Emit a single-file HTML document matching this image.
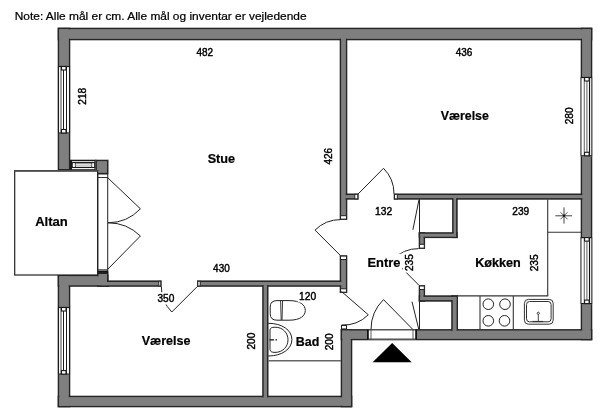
<!DOCTYPE html>
<html><head><meta charset="utf-8"><style>
html,body{margin:0;padding:0;background:#fff;width:600px;height:414px;overflow:hidden}
svg{display:block}
text{font-family:"Liberation Sans",sans-serif;fill:#000;stroke:#000;stroke-width:0.45px}
text[font-weight=bold]{stroke-width:0.2px}
text.note{stroke-width:0.22px}
svg{will-change:transform}
</style></head><body>
<svg width="600" height="414" viewBox="0 0 600 414">
<rect x="58.50" y="28.50" width="533.00" height="11.00" fill="#7f7f7f" stroke="#262626" stroke-width="1.6"/>
<rect x="581.50" y="28.50" width="10.00" height="311.00" fill="#7f7f7f" stroke="#262626" stroke-width="1.6"/>
<rect x="58.50" y="28.50" width="11.00" height="141.30" fill="#7f7f7f" stroke="#262626" stroke-width="1.6"/>
<rect x="58.50" y="275.50" width="11.00" height="131.00" fill="#7f7f7f" stroke="#262626" stroke-width="1.6"/>
<rect x="58.50" y="396.50" width="293.00" height="10.00" fill="#7f7f7f" stroke="#262626" stroke-width="1.6"/>
<rect x="341.50" y="329.90" width="10.00" height="76.60" fill="#7f7f7f" stroke="#262626" stroke-width="1.6"/>
<rect x="341.50" y="329.90" width="250.00" height="9.60" fill="#7f7f7f" stroke="#262626" stroke-width="1.6"/>
<rect x="70.50" y="160.50" width="25.00" height="9.30" fill="#7f7f7f" stroke="#262626" stroke-width="1.6"/>
<rect x="96.10" y="160.50" width="11.60" height="13.00" fill="#7f7f7f" stroke="#262626" stroke-width="1.6"/>
<rect x="58.50" y="275.50" width="49.20" height="10.50" fill="#7f7f7f" stroke="#262626" stroke-width="1.6"/>
<rect x="97.80" y="273.20" width="9.90" height="12.80" fill="#7f7f7f" stroke="#262626" stroke-width="1.6"/>
<rect x="340.50" y="35.50" width="6.00" height="183.60" fill="#7f7f7f" stroke="#262626" stroke-width="1.6"/>
<rect x="340.50" y="256.10" width="6.00" height="36.10" fill="#7f7f7f" stroke="#262626" stroke-width="1.6"/>
<rect x="344.50" y="194.30" width="13.30" height="4.60" fill="#7f7f7f" stroke="#262626" stroke-width="1.6"/>
<rect x="394.50" y="194.30" width="190.00" height="4.60" fill="#7f7f7f" stroke="#262626" stroke-width="1.6"/>
<rect x="100.50" y="281.20" width="60.30" height="4.80" fill="#7f7f7f" stroke="#262626" stroke-width="1.6"/>
<rect x="197.80" y="281.20" width="145.70" height="4.80" fill="#7f7f7f" stroke="#262626" stroke-width="1.6"/>
<rect x="263.00" y="283.50" width="4.70" height="116.00" fill="#7f7f7f" stroke="#262626" stroke-width="1.6"/>
<rect x="419.50" y="233.00" width="4.80" height="15.10" fill="#7f7f7f" stroke="#262626" stroke-width="1.6"/>
<rect x="419.50" y="286.00" width="4.80" height="14.90" fill="#7f7f7f" stroke="#262626" stroke-width="1.6"/>
<rect x="452.90" y="196.50" width="4.00" height="40.80" fill="#7f7f7f" stroke="#262626" stroke-width="1.6"/>
<rect x="419.50" y="233.00" width="37.40" height="4.30" fill="#7f7f7f" stroke="#262626" stroke-width="1.6"/>
<rect x="419.50" y="296.10" width="37.70" height="4.80" fill="#7f7f7f" stroke="#262626" stroke-width="1.6"/>
<rect x="452.00" y="296.10" width="5.20" height="36.40" fill="#7f7f7f" stroke="#262626" stroke-width="1.6"/>
<rect x="59.35" y="29.35" width="531.30" height="9.30" fill="#7f7f7f"/>
<rect x="582.35" y="29.35" width="8.30" height="309.30" fill="#7f7f7f"/>
<rect x="59.35" y="29.35" width="9.30" height="139.60" fill="#7f7f7f"/>
<rect x="59.35" y="276.35" width="9.30" height="129.30" fill="#7f7f7f"/>
<rect x="59.35" y="397.35" width="291.30" height="8.30" fill="#7f7f7f"/>
<rect x="342.35" y="330.75" width="8.30" height="74.90" fill="#7f7f7f"/>
<rect x="342.35" y="330.75" width="248.30" height="7.90" fill="#7f7f7f"/>
<rect x="71.35" y="161.35" width="23.30" height="7.60" fill="#7f7f7f"/>
<rect x="96.95" y="161.35" width="9.90" height="11.30" fill="#7f7f7f"/>
<rect x="59.35" y="276.35" width="47.50" height="8.80" fill="#7f7f7f"/>
<rect x="98.65" y="274.05" width="8.20" height="11.10" fill="#7f7f7f"/>
<rect x="341.35" y="36.35" width="4.30" height="181.90" fill="#7f7f7f"/>
<rect x="341.35" y="256.95" width="4.30" height="34.40" fill="#7f7f7f"/>
<rect x="345.35" y="195.15" width="11.60" height="2.90" fill="#7f7f7f"/>
<rect x="395.35" y="195.15" width="188.30" height="2.90" fill="#7f7f7f"/>
<rect x="101.35" y="282.05" width="58.60" height="3.10" fill="#7f7f7f"/>
<rect x="198.65" y="282.05" width="144.00" height="3.10" fill="#7f7f7f"/>
<rect x="263.85" y="284.35" width="3.00" height="114.30" fill="#7f7f7f"/>
<rect x="420.35" y="233.85" width="3.10" height="13.40" fill="#7f7f7f"/>
<rect x="420.35" y="286.85" width="3.10" height="13.20" fill="#7f7f7f"/>
<rect x="453.75" y="197.35" width="2.30" height="39.10" fill="#7f7f7f"/>
<rect x="420.35" y="233.85" width="35.70" height="2.60" fill="#7f7f7f"/>
<rect x="420.35" y="296.95" width="36.00" height="3.10" fill="#7f7f7f"/>
<rect x="452.85" y="296.95" width="3.50" height="34.70" fill="#7f7f7f"/>
<rect x="58" y="66.0" width="12" height="67.5" fill="#fff"/>
<line x1="58.5" y1="66.0" x2="58.5" y2="133.5" stroke="#1a1a1a" stroke-width="1.1"/>
<line x1="61.0" y1="66.0" x2="61.0" y2="133.5" stroke="#777" stroke-width="1.4"/>
<line x1="63.5" y1="66.0" x2="63.5" y2="133.5" stroke="#1a1a1a" stroke-width="1.0"/>
<line x1="66.5" y1="66.0" x2="66.5" y2="133.5" stroke="#1a1a1a" stroke-width="1.0"/>
<line x1="69.5" y1="66.0" x2="69.5" y2="133.5" stroke="#1a1a1a" stroke-width="1.1"/>
<line x1="58" y1="66.5" x2="70" y2="66.5" stroke="#1a1a1a" stroke-width="1.2"/>
<line x1="58" y1="133.0" x2="70" y2="133.0" stroke="#1a1a1a" stroke-width="1.2"/>
<rect x="61.5" y="66.5" width="4.5" height="3.5" fill="#fff" stroke="#1a1a1a" stroke-width="1.1"/>
<rect x="61.5" y="129.5" width="4.5" height="3.5" fill="#fff" stroke="#1a1a1a" stroke-width="1.1"/>
<rect x="58" y="307" width="12" height="67.60000000000002" fill="#fff"/>
<line x1="58.5" y1="307" x2="58.5" y2="374.6" stroke="#1a1a1a" stroke-width="1.1"/>
<line x1="61.0" y1="307" x2="61.0" y2="374.6" stroke="#777" stroke-width="1.4"/>
<line x1="63.5" y1="307" x2="63.5" y2="374.6" stroke="#1a1a1a" stroke-width="1.0"/>
<line x1="66.5" y1="307" x2="66.5" y2="374.6" stroke="#1a1a1a" stroke-width="1.0"/>
<line x1="69.5" y1="307" x2="69.5" y2="374.6" stroke="#1a1a1a" stroke-width="1.1"/>
<line x1="58" y1="307.5" x2="70" y2="307.5" stroke="#1a1a1a" stroke-width="1.2"/>
<line x1="58" y1="374.1" x2="70" y2="374.1" stroke="#1a1a1a" stroke-width="1.2"/>
<rect x="61.5" y="307.5" width="4.5" height="3.5" fill="#fff" stroke="#1a1a1a" stroke-width="1.1"/>
<rect x="61.5" y="370.6" width="4.5" height="3.5" fill="#fff" stroke="#1a1a1a" stroke-width="1.1"/>
<rect x="581" y="77.0" width="11" height="79.30000000000001" fill="#fff"/>
<line x1="581.0" y1="77.0" x2="581.0" y2="156.3" stroke="#666" stroke-width="1.4"/>
<line x1="584.3" y1="77.0" x2="584.3" y2="156.3" stroke="#777" stroke-width="1.2"/>
<line x1="586.9" y1="77.0" x2="586.9" y2="156.3" stroke="#777" stroke-width="1.2"/>
<line x1="589.5" y1="77.0" x2="589.5" y2="156.3" stroke="#111" stroke-width="1.1"/>
<line x1="591.6" y1="77.0" x2="591.6" y2="156.3" stroke="#666" stroke-width="1.4"/>
<line x1="581" y1="77.5" x2="592" y2="77.5" stroke="#1a1a1a" stroke-width="1.2"/>
<line x1="581" y1="155.8" x2="592" y2="155.8" stroke="#1a1a1a" stroke-width="1.2"/>
<rect x="584.6" y="77.5" width="4.5" height="3.5" fill="#fff" stroke="#1a1a1a" stroke-width="1.1"/>
<rect x="584.6" y="152.3" width="4.5" height="3.5" fill="#fff" stroke="#1a1a1a" stroke-width="1.1"/>
<rect x="581" y="237.1" width="11" height="67.00000000000003" fill="#fff"/>
<line x1="581.0" y1="237.1" x2="581.0" y2="304.1" stroke="#666" stroke-width="1.4"/>
<line x1="584.3" y1="237.1" x2="584.3" y2="304.1" stroke="#777" stroke-width="1.2"/>
<line x1="586.9" y1="237.1" x2="586.9" y2="304.1" stroke="#777" stroke-width="1.2"/>
<line x1="589.5" y1="237.1" x2="589.5" y2="304.1" stroke="#111" stroke-width="1.1"/>
<line x1="591.6" y1="237.1" x2="591.6" y2="304.1" stroke="#666" stroke-width="1.4"/>
<line x1="581" y1="237.6" x2="592" y2="237.6" stroke="#1a1a1a" stroke-width="1.2"/>
<line x1="581" y1="303.6" x2="592" y2="303.6" stroke="#1a1a1a" stroke-width="1.2"/>
<rect x="584.6" y="237.6" width="4.5" height="3.5" fill="#fff" stroke="#1a1a1a" stroke-width="1.1"/>
<rect x="584.6" y="300.1" width="4.5" height="3.5" fill="#fff" stroke="#1a1a1a" stroke-width="1.1"/>
<rect x="70" y="160" width="25.599999999999994" height="10.300000000000011" fill="#fff"/>
<line x1="70" y1="160.6" x2="95.6" y2="160.6" stroke="#1a1a1a" stroke-width="1.2"/>
<line x1="70" y1="169.8" x2="95.6" y2="169.8" stroke="#1a1a1a" stroke-width="1.2"/>
<line x1="71.0" y1="160" x2="71.0" y2="170.3" stroke="#1a1a1a" stroke-width="2"/>
<line x1="95.0" y1="160" x2="95.0" y2="170.3" stroke="#1a1a1a" stroke-width="1.1"/>
<rect x="72.2" y="162.6" width="22.6" height="4.9" fill="none" stroke="#1a1a1a" stroke-width="1.1"/>
<rect x="75.3" y="163.0" width="16.5" height="4.2" fill="none" stroke="#1a1a1a" stroke-width="0.7"/>
<line x1="75.3" y1="165.1" x2="91.8" y2="165.1" stroke="#555" stroke-width="0.5"/>
<rect x="97.8" y="174" width="9.9" height="98.7" fill="#fff" stroke="#222" stroke-width="1"/>
<line x1="97.3" y1="177.5" x2="108.2" y2="177.5" stroke="#333" stroke-width="1"/>
<line x1="97.3" y1="269.8" x2="108.2" y2="269.8" stroke="#333" stroke-width="1"/>
<rect x="97.3" y="270.6" width="10.9" height="2.1" fill="#111"/>
<rect x="14.7" y="170.7" width="82.9" height="104.3" fill="#fff" stroke="#222" stroke-width="1.2"/><line x1="14.2" y1="170.9" x2="97.6" y2="170.9" stroke="#4a4a4a" stroke-width="1.8"/>
<rect x="340.5" y="215.7" width="6" height="3.4000000000000057" fill="#fff" stroke="#222" stroke-width="1"/>
<rect x="340.5" y="256.1" width="6" height="3.4000000000000057" fill="#fff" stroke="#222" stroke-width="1"/>
<rect x="340.5" y="288.8" width="6" height="3.3999999999999773" fill="#fff" stroke="#222" stroke-width="1"/>
<rect x="341.5" y="325.5" width="5" height="3.3999999999999773" fill="#fff" stroke="#222" stroke-width="1"/>
<rect x="354.8" y="194.3" width="3.0" height="4.599999999999994" fill="#fff" stroke="#222" stroke-width="1"/>
<rect x="394.5" y="194.3" width="2.8000000000000114" height="4.599999999999994" fill="#fff" stroke="#222" stroke-width="1"/>
<rect x="158.8" y="281.2" width="2.0" height="4.800000000000011" fill="#fff" stroke="#222" stroke-width="1"/>
<rect x="197.8" y="281.2" width="2.3999999999999773" height="4.800000000000011" fill="#fff" stroke="#222" stroke-width="1"/>
<rect x="419.5" y="244.3" width="4.800000000000011" height="3.799999999999983" fill="#fff" stroke="#222" stroke-width="1"/>
<rect x="419.5" y="286.0" width="4.800000000000011" height="3.5" fill="#fff" stroke="#222" stroke-width="1"/>
<rect x="368" y="329.4" width="48" height="10.2" fill="#fff"/>
<line x1="368" y1="329.9" x2="416" y2="329.9" stroke="#222" stroke-width="1"/>
<line x1="368" y1="339.1" x2="416" y2="339.1" stroke="#222" stroke-width="1"/>
<rect x="367" y="329.4" width="1.8" height="10.2" fill="#111"/>
<line x1="371" y1="329.4" x2="371" y2="339.6" stroke="#333" stroke-width="0.8"/>
<rect x="415.2" y="329.4" width="1.8" height="10.2" fill="#111"/>
<line x1="413" y1="329.4" x2="413" y2="339.6" stroke="#333" stroke-width="0.8"/>
<line x1="419.5" y1="199.4" x2="419.5" y2="232.5" stroke="#222" stroke-width="1"/>
<line x1="419.5" y1="301.4" x2="419.5" y2="329.4" stroke="#222" stroke-width="1"/>
<line x1="419" y1="199.6" x2="412.9" y2="229.8" stroke="#222" stroke-width="1"/>
<line x1="418.7" y1="329" x2="412" y2="301.7" stroke="#222" stroke-width="1"/>
<line x1="358.3" y1="193.8" x2="383.5" y2="168.3" stroke="#222" stroke-width="1"/><path d="M383.5,168.3 A35.85,35.85 0 0 1 394,193.8" fill="none" stroke="#222" stroke-width="1"/>
<line x1="340.5" y1="255.6" x2="315" y2="230.1" stroke="#222" stroke-width="1"/><path d="M315,230.1 A36.06,36.06 0 0 1 340.5,219.6" fill="none" stroke="#222" stroke-width="1"/>
<line x1="197.3" y1="286.5" x2="171.8" y2="312" stroke="#222" stroke-width="1"/><path d="M171.8,312 A36.06,36.06 0 0 1 161.3,286.5" fill="none" stroke="#222" stroke-width="1"/>
<line x1="108" y1="178" x2="140.4" y2="208.8" stroke="#222" stroke-width="1"/><path d="M140.4,208.8 A44.70,44.70 0 0 1 108,222.8" fill="none" stroke="#222" stroke-width="1"/>
<line x1="108" y1="269" x2="140.4" y2="236" stroke="#222" stroke-width="1"/><path d="M140.4,236 A46.25,46.25 0 0 0 108,222.8" fill="none" stroke="#222" stroke-width="1"/>
<line x1="341.5" y1="291.5" x2="368.3" y2="314.8" stroke="#222" stroke-width="1"/><path d="M368.3,314.8 A35.51,35.51 0 0 1 341.5,325" fill="none" stroke="#222" stroke-width="1"/>
<line x1="412.8" y1="329.4" x2="383.5" y2="299.6" stroke="#222" stroke-width="1"/><path d="M383.5,299.6 A41.79,41.79 0 0 0 371,329.4" fill="none" stroke="#222" stroke-width="1"/>
<line x1="418.7" y1="285" x2="393" y2="259.3" stroke="#222" stroke-width="1"/><path d="M393,259.3 A36.35,36.35 0 0 1 418.7,248.6" fill="none" stroke="#222" stroke-width="1"/>
<line x1="547.7" y1="199.4" x2="547.7" y2="296" stroke="#333" stroke-width="1.1"/>
<line x1="457.7" y1="295.9" x2="548.2" y2="295.9" stroke="#333" stroke-width="1.1"/>
<line x1="547.7" y1="232.3" x2="581" y2="232.3" stroke="#333" stroke-width="1.1"/>
<line x1="480" y1="295.9" x2="480" y2="329.4" stroke="#333" stroke-width="1.1"/>
<line x1="513.3" y1="295.9" x2="513.3" y2="329.4" stroke="#333" stroke-width="1.1"/>
<circle cx="488.3" cy="304.2" r="5.3" fill="none" stroke="#222" stroke-width="1"/>
<circle cx="505" cy="304.2" r="5.3" fill="none" stroke="#222" stroke-width="1"/>
<circle cx="488.3" cy="320.8" r="5.3" fill="none" stroke="#222" stroke-width="1"/>
<circle cx="504.5" cy="320.8" r="5.3" fill="none" stroke="#222" stroke-width="1"/>
<rect x="524.4" y="299.4" width="28.8" height="24.8" rx="4" fill="#fff" stroke="#333" stroke-width="1"/>
<rect x="526.5" y="301.5" width="24.6" height="20.3" rx="3" fill="none" stroke="#333" stroke-width="1"/>
<circle cx="538.3" cy="313.3" r="1.1" fill="none" stroke="#333" stroke-width="0.9"/>
<line x1="538.3" y1="314.4" x2="538.3" y2="321.7" stroke="#333" stroke-width="0.9"/>
<line x1="532.5" y1="321.5" x2="543.3" y2="321.5" stroke="#333" stroke-width="1.2"/>
<line x1="555.4" y1="215.8" x2="572" y2="215.8" stroke="#444" stroke-width="1"/>
<line x1="564" y1="207.4" x2="564" y2="223.6" stroke="#444" stroke-width="1"/>
<line x1="560.5" y1="212.3" x2="567.5" y2="219.3" stroke="#444" stroke-width="0.9"/>
<line x1="567.5" y1="212.3" x2="560.5" y2="219.3" stroke="#444" stroke-width="0.9"/>
<circle cx="564" cy="215.8" r="1.2" fill="#111"/>
<path d="M270.2,307 Q270.2,300.6 277,300.6 L289,300.6 C300.5,300.6 305.3,305 305.3,310.4 C305.3,315.8 300.5,320.2 289,320.2 L277,320.2 Q270.2,320.2 270.2,313.8 Z" fill="none" stroke="#222" stroke-width="1"/>
<line x1="280.6" y1="300.8" x2="281.2" y2="320" stroke="#222" stroke-width="0.9"/>
<line x1="282.6" y1="300.8" x2="282.0" y2="320" stroke="#222" stroke-width="0.9"/>
<path d="M268.2,323.3 C282,323.3 291.9,330 291.9,339.5 C291.9,349 282,356 268.2,356" fill="none" stroke="#222" stroke-width="1"/>
<path d="M270,330 Q270,327.2 275,327.2 C283,327.2 288,333 288,339.8 C288,346.6 283,352.4 275,352.4 Q270,352.4 270,349.6 Z" fill="none" stroke="#222" stroke-width="1"/>
<line x1="269.5" y1="339.8" x2="278.5" y2="339.8" stroke="#111" stroke-width="1.3" stroke-dasharray="4.5,1.5,1.5,1.5"/>
<line x1="268.2" y1="360.7" x2="341" y2="360.7" stroke="#666" stroke-width="1.6"/>
<polygon points="392.2,343 372.6,362.2 411.7,362.2" fill="#000"/>
<text x="0" y="0" font-size="11.0" class="note" transform="translate(14.76,20.39) scale(1.0833,1.0435)">Note: Alle mål er cm. Alle mål og inventar er vejledende</text>
<rect x="194.70" y="46.00" width="20.10" height="12.30" fill="#fff"/>
<text x="0" y="0" font-size="11.0" transform="translate(196.47,55.80) scale(0.9070,0.9419)">482</text>
<rect x="76.20" y="86.15" width="12.30" height="20.10" fill="#fff"/>
<text x="0" y="0" font-size="11.0" transform="translate(86.00,104.71) rotate(-90) scale(0.9200,0.9419)">218</text>
<rect x="205.90" y="150.40" width="30.90" height="14.60" fill="#fff"/>
<text x="0" y="0" font-size="12.5" font-weight="bold" transform="translate(207.65,162.50) scale(1.0151,1.0667)">Stue</text>
<rect x="322.45" y="146.25" width="12.30" height="20.10" fill="#fff"/>
<text x="0" y="0" font-size="11.0" transform="translate(332.25,164.58) rotate(-90) scale(0.9070,0.9419)">426</text>
<rect x="33.40" y="214.20" width="35.70" height="14.30" fill="#fff"/>
<text x="0" y="0" font-size="12.5" font-weight="bold" transform="translate(35.14,226.00) scale(1.0479,1.0333)">Altan</text>
<rect x="211.32" y="262.10" width="20.10" height="12.30" fill="#fff"/>
<text x="0" y="0" font-size="11.0" transform="translate(213.10,271.90) scale(0.9070,0.9419)">430</text>
<rect x="155.95" y="292.20" width="20.10" height="12.30" fill="#fff"/>
<text x="0" y="0" font-size="11.0" transform="translate(157.49,302.00) scale(0.9200,0.9419)">350</text>
<rect x="139.70" y="333.60" width="52.40" height="14.30" fill="#fff"/>
<text x="0" y="0" font-size="12.5" font-weight="bold" transform="translate(141.70,345.40) scale(1.0031,1.0333)">Værelse</text>
<rect x="245.05" y="331.00" width="12.30" height="20.10" fill="#fff"/>
<text x="0" y="0" font-size="11.0" transform="translate(254.85,349.56) rotate(-90) scale(0.9200,0.9419)">200</text>
<rect x="297.82" y="290.10" width="20.10" height="12.30" fill="#fff"/>
<text x="0" y="0" font-size="11.0" transform="translate(299.12,299.90) scale(0.9333,0.9419)">120</text>
<rect x="294.50" y="334.20" width="26.00" height="13.90" fill="#fff"/>
<text x="0" y="0" font-size="12.5" font-weight="bold" transform="translate(295.75,345.60) scale(1.0000,0.9889)">Bad</text>
<rect x="322.95" y="331.75" width="12.30" height="20.10" fill="#fff"/>
<text x="0" y="0" font-size="11.0" transform="translate(332.75,350.31) rotate(-90) scale(0.9200,0.9419)">200</text>
<rect x="373.80" y="205.35" width="20.10" height="12.30" fill="#fff"/>
<text x="0" y="0" font-size="11.0" transform="translate(375.10,215.15) scale(0.9333,0.9419)">132</text>
<rect x="366.30" y="253.70" width="35.70" height="15.90" fill="#fff"/>
<text x="0" y="0" font-size="12.5" font-weight="bold" transform="translate(367.53,267.10) scale(1.0309,1.0514)">Entre</text>
<rect x="402.85" y="252.45" width="12.30" height="20.10" fill="#fff"/>
<text x="0" y="0" font-size="11.0" transform="translate(412.65,271.01) rotate(-90) scale(0.9200,0.9419)">235</text>
<rect x="454.00" y="46.05" width="20.10" height="12.30" fill="#fff"/>
<text x="0" y="0" font-size="11.0" transform="translate(455.77,55.85) scale(0.9070,0.9419)">436</text>
<rect x="438.70" y="109.20" width="51.80" height="13.70" fill="#fff"/>
<text x="0" y="0" font-size="12.5" font-weight="bold" transform="translate(440.70,120.40) scale(0.9907,0.9667)">Værelse</text>
<rect x="563.35" y="105.75" width="12.30" height="20.10" fill="#fff"/>
<text x="0" y="0" font-size="11.0" transform="translate(573.15,124.31) rotate(-90) scale(0.9200,0.9419)">280</text>
<rect x="510.80" y="205.35" width="20.10" height="12.30" fill="#fff"/>
<text x="0" y="0" font-size="11.0" transform="translate(512.34,215.15) scale(0.9200,0.9419)">239</text>
<rect x="474.00" y="255.00" width="48.20" height="15.00" fill="#fff"/>
<text x="0" y="0" font-size="12.5" font-weight="bold" transform="translate(475.24,267.23) scale(1.0103,1.0811)">Køkken</text>
<rect x="528.65" y="252.75" width="12.30" height="20.10" fill="#fff"/>
<text x="0" y="0" font-size="11.0" transform="translate(538.45,271.31) rotate(-90) scale(0.9200,0.9419)">235</text>
</svg>
</body></html>
